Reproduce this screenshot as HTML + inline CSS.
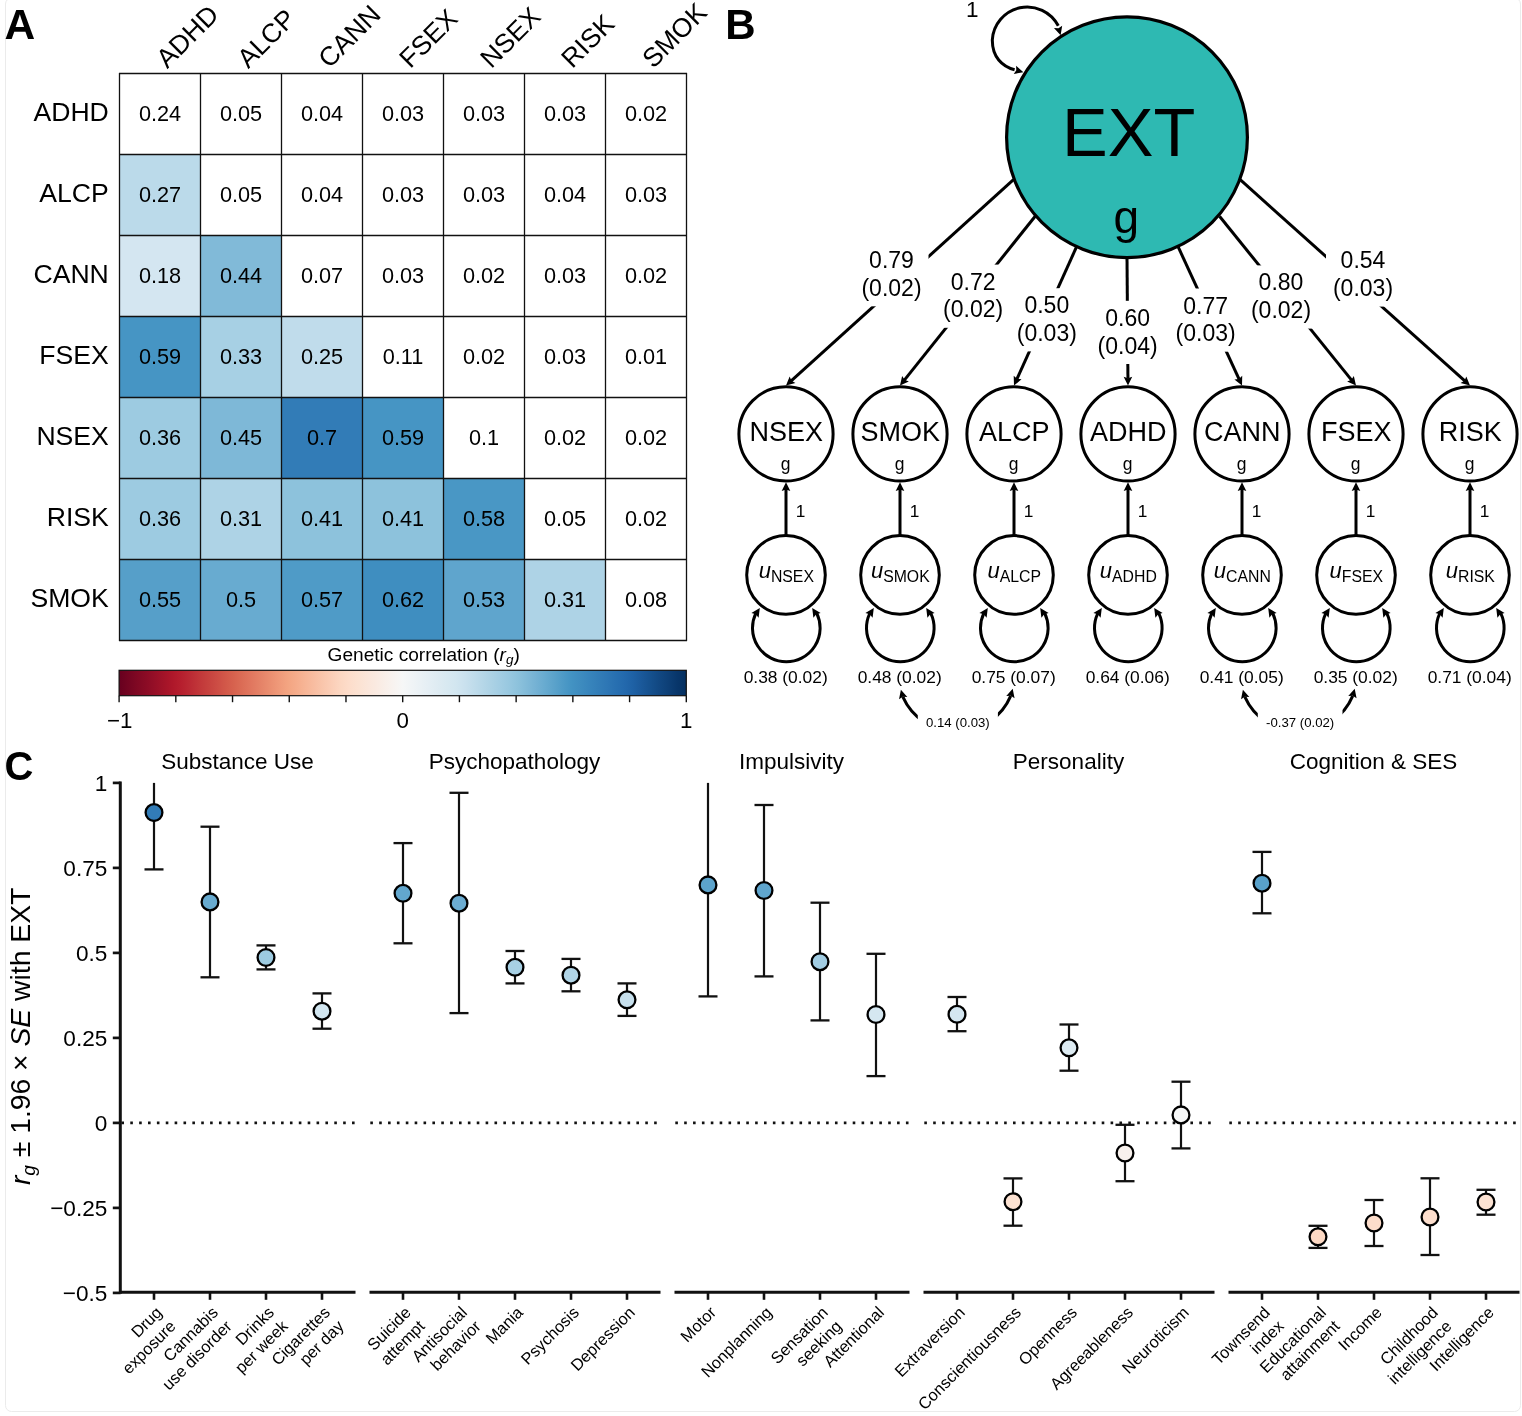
<!DOCTYPE html>
<html><head><meta charset="utf-8"><style>
html,body{margin:0;padding:0;background:#fff;}
svg{display:block;font-family:'Liberation Sans', sans-serif;will-change:transform;}
</style></head><body>
<svg width="1522" height="1416" viewBox="0 0 1522 1416">
<rect width="1522" height="1416" fill="#ffffff"/>
<rect x="5.5" y="-2" width="1515" height="1413.5" rx="6" ry="6" fill="#ffffff" stroke="#ebebeb" stroke-width="1"/>
<text x="4.6" y="38.9" font-size="42.5" font-weight="bold">A</text>
<rect x="119.50" y="73.50" width="81.0" height="81.0" fill="#ffffff"/>
<rect x="200.50" y="73.50" width="81.0" height="81.0" fill="#ffffff"/>
<rect x="281.50" y="73.50" width="81.0" height="81.0" fill="#ffffff"/>
<rect x="362.50" y="73.50" width="81.0" height="81.0" fill="#ffffff"/>
<rect x="443.50" y="73.50" width="81.0" height="81.0" fill="#ffffff"/>
<rect x="524.50" y="73.50" width="81.0" height="81.0" fill="#ffffff"/>
<rect x="605.50" y="73.50" width="81.0" height="81.0" fill="#ffffff"/>
<rect x="119.50" y="154.50" width="81.0" height="81.0" fill="#bbdaea"/>
<rect x="200.50" y="154.50" width="81.0" height="81.0" fill="#ffffff"/>
<rect x="281.50" y="154.50" width="81.0" height="81.0" fill="#ffffff"/>
<rect x="362.50" y="154.50" width="81.0" height="81.0" fill="#ffffff"/>
<rect x="443.50" y="154.50" width="81.0" height="81.0" fill="#ffffff"/>
<rect x="524.50" y="154.50" width="81.0" height="81.0" fill="#ffffff"/>
<rect x="605.50" y="154.50" width="81.0" height="81.0" fill="#ffffff"/>
<rect x="119.50" y="235.50" width="81.0" height="81.0" fill="#d4e6f1"/>
<rect x="200.50" y="235.50" width="81.0" height="81.0" fill="#81bad8"/>
<rect x="281.50" y="235.50" width="81.0" height="81.0" fill="#ffffff"/>
<rect x="362.50" y="235.50" width="81.0" height="81.0" fill="#ffffff"/>
<rect x="443.50" y="235.50" width="81.0" height="81.0" fill="#ffffff"/>
<rect x="524.50" y="235.50" width="81.0" height="81.0" fill="#ffffff"/>
<rect x="605.50" y="235.50" width="81.0" height="81.0" fill="#ffffff"/>
<rect x="119.50" y="316.50" width="81.0" height="81.0" fill="#4695c4"/>
<rect x="200.50" y="316.50" width="81.0" height="81.0" fill="#a7d0e4"/>
<rect x="281.50" y="316.50" width="81.0" height="81.0" fill="#c0dceb"/>
<rect x="362.50" y="316.50" width="81.0" height="81.0" fill="#ffffff"/>
<rect x="443.50" y="316.50" width="81.0" height="81.0" fill="#ffffff"/>
<rect x="524.50" y="316.50" width="81.0" height="81.0" fill="#ffffff"/>
<rect x="605.50" y="316.50" width="81.0" height="81.0" fill="#ffffff"/>
<rect x="119.50" y="397.50" width="81.0" height="81.0" fill="#9dcbe1"/>
<rect x="200.50" y="397.50" width="81.0" height="81.0" fill="#7eb8d7"/>
<rect x="281.50" y="397.50" width="81.0" height="81.0" fill="#327cb7"/>
<rect x="362.50" y="397.50" width="81.0" height="81.0" fill="#4695c4"/>
<rect x="443.50" y="397.50" width="81.0" height="81.0" fill="#ffffff"/>
<rect x="524.50" y="397.50" width="81.0" height="81.0" fill="#ffffff"/>
<rect x="605.50" y="397.50" width="81.0" height="81.0" fill="#ffffff"/>
<rect x="119.50" y="478.50" width="81.0" height="81.0" fill="#9dcbe1"/>
<rect x="200.50" y="478.50" width="81.0" height="81.0" fill="#aed3e6"/>
<rect x="281.50" y="478.50" width="81.0" height="81.0" fill="#8dc2dc"/>
<rect x="362.50" y="478.50" width="81.0" height="81.0" fill="#8dc2dc"/>
<rect x="443.50" y="478.50" width="81.0" height="81.0" fill="#4997c5"/>
<rect x="524.50" y="478.50" width="81.0" height="81.0" fill="#ffffff"/>
<rect x="605.50" y="478.50" width="81.0" height="81.0" fill="#ffffff"/>
<rect x="119.50" y="559.50" width="81.0" height="81.0" fill="#569fc9"/>
<rect x="200.50" y="559.50" width="81.0" height="81.0" fill="#68abd0"/>
<rect x="281.50" y="559.50" width="81.0" height="81.0" fill="#4f9bc7"/>
<rect x="362.50" y="559.50" width="81.0" height="81.0" fill="#3f8ec0"/>
<rect x="443.50" y="559.50" width="81.0" height="81.0" fill="#5fa5cd"/>
<rect x="524.50" y="559.50" width="81.0" height="81.0" fill="#aed3e6"/>
<rect x="605.50" y="559.50" width="81.0" height="81.0" fill="#ffffff"/>
<line x1="119.50" y1="73.00" x2="119.50" y2="641.00" stroke="#111" stroke-width="1.3"/>
<line x1="119.00" y1="73.50" x2="687.00" y2="73.50" stroke="#111" stroke-width="1.3"/>
<line x1="200.50" y1="73.00" x2="200.50" y2="641.00" stroke="#111" stroke-width="1.3"/>
<line x1="119.00" y1="154.50" x2="687.00" y2="154.50" stroke="#111" stroke-width="1.3"/>
<line x1="281.50" y1="73.00" x2="281.50" y2="641.00" stroke="#111" stroke-width="1.3"/>
<line x1="119.00" y1="235.50" x2="687.00" y2="235.50" stroke="#111" stroke-width="1.3"/>
<line x1="362.50" y1="73.00" x2="362.50" y2="641.00" stroke="#111" stroke-width="1.3"/>
<line x1="119.00" y1="316.50" x2="687.00" y2="316.50" stroke="#111" stroke-width="1.3"/>
<line x1="443.50" y1="73.00" x2="443.50" y2="641.00" stroke="#111" stroke-width="1.3"/>
<line x1="119.00" y1="397.50" x2="687.00" y2="397.50" stroke="#111" stroke-width="1.3"/>
<line x1="524.50" y1="73.00" x2="524.50" y2="641.00" stroke="#111" stroke-width="1.3"/>
<line x1="119.00" y1="478.50" x2="687.00" y2="478.50" stroke="#111" stroke-width="1.3"/>
<line x1="605.50" y1="73.00" x2="605.50" y2="641.00" stroke="#111" stroke-width="1.3"/>
<line x1="119.00" y1="559.50" x2="687.00" y2="559.50" stroke="#111" stroke-width="1.3"/>
<line x1="686.50" y1="73.00" x2="686.50" y2="641.00" stroke="#111" stroke-width="1.3"/>
<line x1="119.00" y1="640.50" x2="687.00" y2="640.50" stroke="#111" stroke-width="1.3"/>
<text x="160.00" y="121.30" font-size="21.7" text-anchor="middle" >0.24</text>
<text x="241.00" y="121.30" font-size="21.7" text-anchor="middle" >0.05</text>
<text x="322.00" y="121.30" font-size="21.7" text-anchor="middle" >0.04</text>
<text x="403.00" y="121.30" font-size="21.7" text-anchor="middle" >0.03</text>
<text x="484.00" y="121.30" font-size="21.7" text-anchor="middle" >0.03</text>
<text x="565.00" y="121.30" font-size="21.7" text-anchor="middle" >0.03</text>
<text x="646.00" y="121.30" font-size="21.7" text-anchor="middle" >0.02</text>
<text x="160.00" y="202.30" font-size="21.7" text-anchor="middle" >0.27</text>
<text x="241.00" y="202.30" font-size="21.7" text-anchor="middle" >0.05</text>
<text x="322.00" y="202.30" font-size="21.7" text-anchor="middle" >0.04</text>
<text x="403.00" y="202.30" font-size="21.7" text-anchor="middle" >0.03</text>
<text x="484.00" y="202.30" font-size="21.7" text-anchor="middle" >0.03</text>
<text x="565.00" y="202.30" font-size="21.7" text-anchor="middle" >0.04</text>
<text x="646.00" y="202.30" font-size="21.7" text-anchor="middle" >0.03</text>
<text x="160.00" y="283.30" font-size="21.7" text-anchor="middle" >0.18</text>
<text x="241.00" y="283.30" font-size="21.7" text-anchor="middle" >0.44</text>
<text x="322.00" y="283.30" font-size="21.7" text-anchor="middle" >0.07</text>
<text x="403.00" y="283.30" font-size="21.7" text-anchor="middle" >0.03</text>
<text x="484.00" y="283.30" font-size="21.7" text-anchor="middle" >0.02</text>
<text x="565.00" y="283.30" font-size="21.7" text-anchor="middle" >0.03</text>
<text x="646.00" y="283.30" font-size="21.7" text-anchor="middle" >0.02</text>
<text x="160.00" y="364.30" font-size="21.7" text-anchor="middle" >0.59</text>
<text x="241.00" y="364.30" font-size="21.7" text-anchor="middle" >0.33</text>
<text x="322.00" y="364.30" font-size="21.7" text-anchor="middle" >0.25</text>
<text x="403.00" y="364.30" font-size="21.7" text-anchor="middle" >0.11</text>
<text x="484.00" y="364.30" font-size="21.7" text-anchor="middle" >0.02</text>
<text x="565.00" y="364.30" font-size="21.7" text-anchor="middle" >0.03</text>
<text x="646.00" y="364.30" font-size="21.7" text-anchor="middle" >0.01</text>
<text x="160.00" y="445.30" font-size="21.7" text-anchor="middle" >0.36</text>
<text x="241.00" y="445.30" font-size="21.7" text-anchor="middle" >0.45</text>
<text x="322.00" y="445.30" font-size="21.7" text-anchor="middle" >0.7</text>
<text x="403.00" y="445.30" font-size="21.7" text-anchor="middle" >0.59</text>
<text x="484.00" y="445.30" font-size="21.7" text-anchor="middle" >0.1</text>
<text x="565.00" y="445.30" font-size="21.7" text-anchor="middle" >0.02</text>
<text x="646.00" y="445.30" font-size="21.7" text-anchor="middle" >0.02</text>
<text x="160.00" y="526.30" font-size="21.7" text-anchor="middle" >0.36</text>
<text x="241.00" y="526.30" font-size="21.7" text-anchor="middle" >0.31</text>
<text x="322.00" y="526.30" font-size="21.7" text-anchor="middle" >0.41</text>
<text x="403.00" y="526.30" font-size="21.7" text-anchor="middle" >0.41</text>
<text x="484.00" y="526.30" font-size="21.7" text-anchor="middle" >0.58</text>
<text x="565.00" y="526.30" font-size="21.7" text-anchor="middle" >0.05</text>
<text x="646.00" y="526.30" font-size="21.7" text-anchor="middle" >0.02</text>
<text x="160.00" y="607.30" font-size="21.7" text-anchor="middle" >0.55</text>
<text x="241.00" y="607.30" font-size="21.7" text-anchor="middle" >0.5</text>
<text x="322.00" y="607.30" font-size="21.7" text-anchor="middle" >0.57</text>
<text x="403.00" y="607.30" font-size="21.7" text-anchor="middle" >0.62</text>
<text x="484.00" y="607.30" font-size="21.7" text-anchor="middle" >0.53</text>
<text x="565.00" y="607.30" font-size="21.7" text-anchor="middle" >0.31</text>
<text x="646.00" y="607.30" font-size="21.7" text-anchor="middle" >0.08</text>
<text x="108.80" y="120.70" font-size="26.6" text-anchor="end" >ADHD</text>
<text x="108.80" y="201.70" font-size="26.6" text-anchor="end" >ALCP</text>
<text x="108.80" y="282.70" font-size="26.6" text-anchor="end" >CANN</text>
<text x="108.80" y="363.70" font-size="26.6" text-anchor="end" >FSEX</text>
<text x="108.80" y="444.70" font-size="26.6" text-anchor="end" >NSEX</text>
<text x="108.80" y="525.70" font-size="26.6" text-anchor="end" >RISK</text>
<text x="108.80" y="606.70" font-size="26.6" text-anchor="end" >SMOK</text>
<text transform="translate(167.20,69.3) rotate(-45)" font-size="26.5">ADHD</text>
<text transform="translate(248.20,69.3) rotate(-45)" font-size="26.5">ALCP</text>
<text transform="translate(329.20,69.3) rotate(-45)" font-size="26.5">CANN</text>
<text transform="translate(410.20,69.3) rotate(-45)" font-size="26.5">FSEX</text>
<text transform="translate(491.20,69.3) rotate(-45)" font-size="26.5">NSEX</text>
<text transform="translate(572.20,69.3) rotate(-45)" font-size="26.5">RISK</text>
<text transform="translate(653.20,69.3) rotate(-45)" font-size="26.5">SMOK</text>
<defs><linearGradient id="rdbu" x1="0" x2="1" y1="0" y2="0">
<stop offset="0.0000" stop-color="#67001f"/>
<stop offset="0.0156" stop-color="#730421"/>
<stop offset="0.0312" stop-color="#7f0823"/>
<stop offset="0.0469" stop-color="#8a0b25"/>
<stop offset="0.0625" stop-color="#960f27"/>
<stop offset="0.0781" stop-color="#a21328"/>
<stop offset="0.0938" stop-color="#ae172a"/>
<stop offset="0.1094" stop-color="#b61f2e"/>
<stop offset="0.1250" stop-color="#bb2a34"/>
<stop offset="0.1406" stop-color="#c13639"/>
<stop offset="0.1562" stop-color="#c6413e"/>
<stop offset="0.1719" stop-color="#cc4c44"/>
<stop offset="0.1875" stop-color="#d25849"/>
<stop offset="0.2031" stop-color="#d7634f"/>
<stop offset="0.2188" stop-color="#dc6e57"/>
<stop offset="0.2344" stop-color="#e17860"/>
<stop offset="0.2500" stop-color="#e58368"/>
<stop offset="0.2656" stop-color="#ea8e70"/>
<stop offset="0.2812" stop-color="#ef9979"/>
<stop offset="0.2969" stop-color="#f3a481"/>
<stop offset="0.3125" stop-color="#f5ac8b"/>
<stop offset="0.3281" stop-color="#f7b596"/>
<stop offset="0.3438" stop-color="#f8bda1"/>
<stop offset="0.3594" stop-color="#f9c6ac"/>
<stop offset="0.3750" stop-color="#fbceb7"/>
<stop offset="0.3906" stop-color="#fcd7c2"/>
<stop offset="0.4062" stop-color="#fdddcb"/>
<stop offset="0.4219" stop-color="#fce2d2"/>
<stop offset="0.4375" stop-color="#fbe6da"/>
<stop offset="0.4531" stop-color="#faeae1"/>
<stop offset="0.4688" stop-color="#f9efe9"/>
<stop offset="0.4844" stop-color="#f8f3f0"/>
<stop offset="0.5000" stop-color="#f6f7f7"/>
<stop offset="0.5156" stop-color="#f0f4f6"/>
<stop offset="0.5312" stop-color="#eaf1f5"/>
<stop offset="0.5469" stop-color="#e4eef4"/>
<stop offset="0.5625" stop-color="#deebf2"/>
<stop offset="0.5781" stop-color="#d8e9f1"/>
<stop offset="0.5938" stop-color="#d2e6f0"/>
<stop offset="0.6094" stop-color="#cae1ee"/>
<stop offset="0.6250" stop-color="#c0dceb"/>
<stop offset="0.6406" stop-color="#b6d7e8"/>
<stop offset="0.6562" stop-color="#acd2e5"/>
<stop offset="0.6719" stop-color="#a2cde3"/>
<stop offset="0.6875" stop-color="#98c8e0"/>
<stop offset="0.7031" stop-color="#8dc2dc"/>
<stop offset="0.7188" stop-color="#81bad8"/>
<stop offset="0.7344" stop-color="#75b2d4"/>
<stop offset="0.7500" stop-color="#68abd0"/>
<stop offset="0.7656" stop-color="#5ca3cb"/>
<stop offset="0.7812" stop-color="#4f9bc7"/>
<stop offset="0.7969" stop-color="#4393c3"/>
<stop offset="0.8125" stop-color="#3e8cbf"/>
<stop offset="0.8281" stop-color="#3885bc"/>
<stop offset="0.8438" stop-color="#337eb8"/>
<stop offset="0.8594" stop-color="#2e77b5"/>
<stop offset="0.8750" stop-color="#2870b1"/>
<stop offset="0.8906" stop-color="#2369ad"/>
<stop offset="0.9062" stop-color="#1e61a5"/>
<stop offset="0.9219" stop-color="#1a5899"/>
<stop offset="0.9375" stop-color="#15508d"/>
<stop offset="0.9531" stop-color="#114781"/>
<stop offset="0.9688" stop-color="#0d3f76"/>
<stop offset="0.9844" stop-color="#08366a"/>
<stop offset="1.0000" stop-color="#053061"/>
</linearGradient></defs>
<rect x="119.1" y="670.3" width="567.20" height="25.40" fill="url(#rdbu)" stroke="#111" stroke-width="1.2"/>
<line x1="119.10" y1="695.7" x2="119.10" y2="702.2" stroke="#111" stroke-width="1.4"/>
<line x1="175.82" y1="695.7" x2="175.82" y2="702.2" stroke="#111" stroke-width="1.4"/>
<line x1="232.54" y1="695.7" x2="232.54" y2="702.2" stroke="#111" stroke-width="1.4"/>
<line x1="289.26" y1="695.7" x2="289.26" y2="702.2" stroke="#111" stroke-width="1.4"/>
<line x1="345.98" y1="695.7" x2="345.98" y2="702.2" stroke="#111" stroke-width="1.4"/>
<line x1="402.70" y1="695.7" x2="402.70" y2="702.2" stroke="#111" stroke-width="1.4"/>
<line x1="459.42" y1="695.7" x2="459.42" y2="702.2" stroke="#111" stroke-width="1.4"/>
<line x1="516.14" y1="695.7" x2="516.14" y2="702.2" stroke="#111" stroke-width="1.4"/>
<line x1="572.86" y1="695.7" x2="572.86" y2="702.2" stroke="#111" stroke-width="1.4"/>
<line x1="629.58" y1="695.7" x2="629.58" y2="702.2" stroke="#111" stroke-width="1.4"/>
<line x1="686.30" y1="695.7" x2="686.30" y2="702.2" stroke="#111" stroke-width="1.4"/>
<text x="119.70" y="727.90" font-size="22.3" text-anchor="middle" >−1</text>
<text x="402.70" y="727.90" font-size="22.3" text-anchor="middle" >0</text>
<text x="686.30" y="727.90" font-size="22.3" text-anchor="middle" >1</text>
<text x="327.6" y="660.6" font-size="19.1">Genetic correlation (<tspan font-style="italic">r</tspan><tspan font-style="italic" font-size="13.5" dy="3.5">g</tspan><tspan dy="-3.5">)</tspan></text>
<text x="725.2" y="38.8" font-size="42" font-weight="bold">B</text>
<line x1="1013.5" y1="179.7" x2="791.19" y2="380.90" stroke="#000" stroke-width="3.0"/>
<path d="M786.00,385.60 L789.64,376.51 L791.49,380.63 L795.41,382.88 Z" fill="#000"/>
<line x1="1035.2" y1="216.2" x2="904.37" y2="380.13" stroke="#000" stroke-width="3.0"/>
<path d="M900.00,385.60 L902.13,376.04 L904.62,379.82 L908.85,381.40 Z" fill="#000"/>
<line x1="1076.6" y1="246.7" x2="1016.88" y2="379.22" stroke="#000" stroke-width="3.0"/>
<path d="M1014.00,385.60 L1013.70,375.81 L1017.04,378.85 L1021.54,379.34 Z" fill="#000"/>
<line x1="1127.0" y1="257.6" x2="1127.95" y2="378.60" stroke="#000" stroke-width="3.0"/>
<path d="M1128.00,385.60 L1123.63,376.83 L1127.94,378.20 L1132.23,376.77 Z" fill="#000"/>
<line x1="1178.1" y1="246.7" x2="1239.07" y2="379.24" stroke="#000" stroke-width="3.0"/>
<path d="M1242.00,385.60 L1234.42,379.40 L1238.91,378.88 L1242.23,375.81 Z" fill="#000"/>
<line x1="1219.5" y1="216.2" x2="1351.61" y2="380.15" stroke="#000" stroke-width="3.0"/>
<path d="M1356.00,385.60 L1347.13,381.45 L1351.36,379.84 L1353.83,376.05 Z" fill="#000"/>
<line x1="1240.2" y1="179.7" x2="1464.79" y2="380.93" stroke="#000" stroke-width="3.0"/>
<path d="M1470.00,385.60 L1460.58,382.93 L1464.49,380.66 L1466.32,376.53 Z" fill="#000"/>
<circle cx="1127.0" cy="137.2" r="120.4" fill="#2eb9b2" stroke="#000" stroke-width="3.2"/>
<text x="1128.70" y="156.30" font-size="68.5" text-anchor="middle" >EXT</text>
<text x="1126.30" y="232.50" font-size="46" text-anchor="middle" >g</text>
<rect x="854.50" y="243.10" width="74" height="63.20" fill="#fff"/>
<text x="891.50" y="268.10" font-size="23.0" text-anchor="middle" >0.79</text>
<text x="891.50" y="295.80" font-size="23.0" text-anchor="middle" >(0.02)</text>
<rect x="936.10" y="264.60" width="74" height="63.20" fill="#fff"/>
<text x="973.10" y="289.60" font-size="23.0" text-anchor="middle" >0.72</text>
<text x="973.10" y="317.30" font-size="23.0" text-anchor="middle" >(0.02)</text>
<rect x="1009.80" y="288.20" width="74" height="63.20" fill="#fff"/>
<text x="1046.80" y="313.20" font-size="23.0" text-anchor="middle" >0.50</text>
<text x="1046.80" y="340.90" font-size="23.0" text-anchor="middle" >(0.03)</text>
<rect x="1090.60" y="300.80" width="74" height="63.20" fill="#fff"/>
<text x="1127.60" y="325.80" font-size="23.0" text-anchor="middle" >0.60</text>
<text x="1127.60" y="353.50" font-size="23.0" text-anchor="middle" >(0.04)</text>
<rect x="1168.60" y="288.50" width="74" height="63.20" fill="#fff"/>
<text x="1205.60" y="313.50" font-size="23.0" text-anchor="middle" >0.77</text>
<text x="1205.60" y="341.20" font-size="23.0" text-anchor="middle" >(0.03)</text>
<rect x="1244.00" y="265.40" width="74" height="63.20" fill="#fff"/>
<text x="1281.00" y="290.40" font-size="23.0" text-anchor="middle" >0.80</text>
<text x="1281.00" y="318.10" font-size="23.0" text-anchor="middle" >(0.02)</text>
<rect x="1326.00" y="243.40" width="74" height="63.20" fill="#fff"/>
<text x="1363.00" y="268.40" font-size="23.0" text-anchor="middle" >0.54</text>
<text x="1363.00" y="296.10" font-size="23.0" text-anchor="middle" >(0.03)</text>
<path d="M1058.3,25.8 A35,35 0 0 0 992.3,40 C992.3,57 1002,66.5 1014.6,69.8" fill="none" stroke="#000" stroke-width="3"/>
<path d="M1060.60,35.30 L1053.95,28.11 L1058.47,28.21 L1062.19,25.64 Z" fill="#000"/>
<path d="M1023.40,72.20 L1013.76,73.96 L1016.28,70.20 L1016.09,65.68 Z" fill="#000"/>
<text x="972.30" y="16.70" font-size="22.5" text-anchor="middle" >1</text>
<circle cx="786" cy="433.9" r="47.1" fill="#fff" stroke="#000" stroke-width="3.0"/>
<text x="786.20" y="441.00" font-size="27" text-anchor="middle" >NSEX</text>
<text x="785.70" y="470.30" font-size="17.5" text-anchor="middle" >g</text>
<line x1="786" y1="535.6" x2="786" y2="488.0" stroke="#000" stroke-width="3.0"/>
<path d="M786.00,482.20 L790.30,491.00 L786.00,489.60 L781.70,491.00 Z" fill="#000"/>
<text x="800.50" y="517.20" font-size="17.3" text-anchor="middle" >1</text>
<circle cx="786" cy="574.9" r="39.3" fill="#fff" stroke="#000" stroke-width="3.0"/>
<text x="786.30" y="577.6" font-size="22" text-anchor="middle"><tspan font-style="italic">u</tspan><tspan font-size="15.8" dy="4.8">NSEX</tspan></text>
<path d="M816.81,613.45 A33.8,33.8 0 1 1 755.79,613.45" fill="none" stroke="#000" stroke-width="3"/>
<path d="M759.80,608.00 L758.60,617.72 L755.76,614.20 L751.39,613.03 Z" fill="#000"/>
<path d="M812.20,608.00 L820.61,613.03 L816.24,614.20 L813.40,617.72 Z" fill="#000"/>
<circle cx="900" cy="433.9" r="47.1" fill="#fff" stroke="#000" stroke-width="3.0"/>
<text x="900.20" y="441.00" font-size="27" text-anchor="middle" >SMOK</text>
<text x="899.70" y="470.30" font-size="17.5" text-anchor="middle" >g</text>
<line x1="900" y1="535.6" x2="900" y2="488.0" stroke="#000" stroke-width="3.0"/>
<path d="M900.00,482.20 L904.30,491.00 L900.00,489.60 L895.70,491.00 Z" fill="#000"/>
<text x="914.50" y="517.20" font-size="17.3" text-anchor="middle" >1</text>
<circle cx="900" cy="574.9" r="39.3" fill="#fff" stroke="#000" stroke-width="3.0"/>
<text x="900.30" y="577.6" font-size="22" text-anchor="middle"><tspan font-style="italic">u</tspan><tspan font-size="15.8" dy="4.8">SMOK</tspan></text>
<path d="M930.81,613.45 A33.8,33.8 0 1 1 869.79,613.45" fill="none" stroke="#000" stroke-width="3"/>
<path d="M873.80,608.00 L872.60,617.72 L869.76,614.20 L865.39,613.03 Z" fill="#000"/>
<path d="M926.20,608.00 L934.61,613.03 L930.24,614.20 L927.40,617.72 Z" fill="#000"/>
<circle cx="1014" cy="433.9" r="47.1" fill="#fff" stroke="#000" stroke-width="3.0"/>
<text x="1014.20" y="441.00" font-size="27" text-anchor="middle" >ALCP</text>
<text x="1013.70" y="470.30" font-size="17.5" text-anchor="middle" >g</text>
<line x1="1014" y1="535.6" x2="1014" y2="488.0" stroke="#000" stroke-width="3.0"/>
<path d="M1014.00,482.20 L1018.30,491.00 L1014.00,489.60 L1009.70,491.00 Z" fill="#000"/>
<text x="1028.50" y="517.20" font-size="17.3" text-anchor="middle" >1</text>
<circle cx="1014" cy="574.9" r="39.3" fill="#fff" stroke="#000" stroke-width="3.0"/>
<text x="1014.30" y="577.6" font-size="22" text-anchor="middle"><tspan font-style="italic">u</tspan><tspan font-size="15.8" dy="4.8">ALCP</tspan></text>
<path d="M1044.81,613.45 A33.8,33.8 0 1 1 983.79,613.45" fill="none" stroke="#000" stroke-width="3"/>
<path d="M987.80,608.00 L986.60,617.72 L983.76,614.20 L979.39,613.03 Z" fill="#000"/>
<path d="M1040.20,608.00 L1048.61,613.03 L1044.24,614.20 L1041.40,617.72 Z" fill="#000"/>
<circle cx="1128" cy="433.9" r="47.1" fill="#fff" stroke="#000" stroke-width="3.0"/>
<text x="1128.20" y="441.00" font-size="27" text-anchor="middle" >ADHD</text>
<text x="1127.70" y="470.30" font-size="17.5" text-anchor="middle" >g</text>
<line x1="1128" y1="535.6" x2="1128" y2="488.0" stroke="#000" stroke-width="3.0"/>
<path d="M1128.00,482.20 L1132.30,491.00 L1128.00,489.60 L1123.70,491.00 Z" fill="#000"/>
<text x="1142.50" y="517.20" font-size="17.3" text-anchor="middle" >1</text>
<circle cx="1128" cy="574.9" r="39.3" fill="#fff" stroke="#000" stroke-width="3.0"/>
<text x="1128.30" y="577.6" font-size="22" text-anchor="middle"><tspan font-style="italic">u</tspan><tspan font-size="15.8" dy="4.8">ADHD</tspan></text>
<path d="M1158.81,613.45 A33.8,33.8 0 1 1 1097.79,613.45" fill="none" stroke="#000" stroke-width="3"/>
<path d="M1101.80,608.00 L1100.60,617.72 L1097.76,614.20 L1093.39,613.03 Z" fill="#000"/>
<path d="M1154.20,608.00 L1162.61,613.03 L1158.24,614.20 L1155.40,617.72 Z" fill="#000"/>
<circle cx="1242" cy="433.9" r="47.1" fill="#fff" stroke="#000" stroke-width="3.0"/>
<text x="1242.20" y="441.00" font-size="27" text-anchor="middle" >CANN</text>
<text x="1241.70" y="470.30" font-size="17.5" text-anchor="middle" >g</text>
<line x1="1242" y1="535.6" x2="1242" y2="488.0" stroke="#000" stroke-width="3.0"/>
<path d="M1242.00,482.20 L1246.30,491.00 L1242.00,489.60 L1237.70,491.00 Z" fill="#000"/>
<text x="1256.50" y="517.20" font-size="17.3" text-anchor="middle" >1</text>
<circle cx="1242" cy="574.9" r="39.3" fill="#fff" stroke="#000" stroke-width="3.0"/>
<text x="1242.30" y="577.6" font-size="22" text-anchor="middle"><tspan font-style="italic">u</tspan><tspan font-size="15.8" dy="4.8">CANN</tspan></text>
<path d="M1272.81,613.45 A33.8,33.8 0 1 1 1211.79,613.45" fill="none" stroke="#000" stroke-width="3"/>
<path d="M1215.80,608.00 L1214.60,617.72 L1211.76,614.20 L1207.39,613.03 Z" fill="#000"/>
<path d="M1268.20,608.00 L1276.61,613.03 L1272.24,614.20 L1269.40,617.72 Z" fill="#000"/>
<circle cx="1356" cy="433.9" r="47.1" fill="#fff" stroke="#000" stroke-width="3.0"/>
<text x="1356.20" y="441.00" font-size="27" text-anchor="middle" >FSEX</text>
<text x="1355.70" y="470.30" font-size="17.5" text-anchor="middle" >g</text>
<line x1="1356" y1="535.6" x2="1356" y2="488.0" stroke="#000" stroke-width="3.0"/>
<path d="M1356.00,482.20 L1360.30,491.00 L1356.00,489.60 L1351.70,491.00 Z" fill="#000"/>
<text x="1370.50" y="517.20" font-size="17.3" text-anchor="middle" >1</text>
<circle cx="1356" cy="574.9" r="39.3" fill="#fff" stroke="#000" stroke-width="3.0"/>
<text x="1356.30" y="577.6" font-size="22" text-anchor="middle"><tspan font-style="italic">u</tspan><tspan font-size="15.8" dy="4.8">FSEX</tspan></text>
<path d="M1386.81,613.45 A33.8,33.8 0 1 1 1325.79,613.45" fill="none" stroke="#000" stroke-width="3"/>
<path d="M1329.80,608.00 L1328.60,617.72 L1325.76,614.20 L1321.39,613.03 Z" fill="#000"/>
<path d="M1382.20,608.00 L1390.61,613.03 L1386.24,614.20 L1383.40,617.72 Z" fill="#000"/>
<circle cx="1470" cy="433.9" r="47.1" fill="#fff" stroke="#000" stroke-width="3.0"/>
<text x="1470.20" y="441.00" font-size="27" text-anchor="middle" >RISK</text>
<text x="1469.70" y="470.30" font-size="17.5" text-anchor="middle" >g</text>
<line x1="1470" y1="535.6" x2="1470" y2="488.0" stroke="#000" stroke-width="3.0"/>
<path d="M1470.00,482.20 L1474.30,491.00 L1470.00,489.60 L1465.70,491.00 Z" fill="#000"/>
<text x="1484.50" y="517.20" font-size="17.3" text-anchor="middle" >1</text>
<circle cx="1470" cy="574.9" r="39.3" fill="#fff" stroke="#000" stroke-width="3.0"/>
<text x="1470.30" y="577.6" font-size="22" text-anchor="middle"><tspan font-style="italic">u</tspan><tspan font-size="15.8" dy="4.8">RISK</tspan></text>
<path d="M1500.81,613.45 A33.8,33.8 0 1 1 1439.79,613.45" fill="none" stroke="#000" stroke-width="3"/>
<path d="M1443.80,608.00 L1442.60,617.72 L1439.76,614.20 L1435.39,613.03 Z" fill="#000"/>
<path d="M1496.20,608.00 L1504.61,613.03 L1500.24,614.20 L1497.40,617.72 Z" fill="#000"/>
<text x="785.70" y="683.20" font-size="17.4" text-anchor="middle" >0.38 (0.02)</text>
<text x="899.70" y="683.20" font-size="17.4" text-anchor="middle" >0.48 (0.02)</text>
<text x="1013.70" y="683.20" font-size="17.4" text-anchor="middle" >0.75 (0.07)</text>
<text x="1127.70" y="683.20" font-size="17.4" text-anchor="middle" >0.64 (0.06)</text>
<text x="1241.70" y="683.20" font-size="17.4" text-anchor="middle" >0.41 (0.05)</text>
<text x="1355.70" y="683.20" font-size="17.4" text-anchor="middle" >0.35 (0.02)</text>
<text x="1469.70" y="683.20" font-size="17.4" text-anchor="middle" >0.71 (0.04)</text>
<path d="M902.85,696.95 A58.8,58.8 0 0 0 1010.75,695.95" fill="none" stroke="#000" stroke-width="3"/>
<path d="M900.90,689.70 L907.34,697.08 L902.82,696.85 L899.03,699.32 Z" fill="#000"/>
<path d="M1012.70,688.70 L1014.57,698.32 L1010.78,695.85 L1006.26,696.08 Z" fill="#000"/>
<rect x="917.80" y="709" width="80.10" height="26" fill="#fff"/>
<text x="957.85" y="726.90" font-size="13.2" text-anchor="middle" >0.14 (0.03)</text>
<path d="M1244.85,696.95 A58.8,58.8 0 0 0 1352.75,695.95" fill="none" stroke="#000" stroke-width="3"/>
<path d="M1242.90,689.70 L1249.34,697.08 L1244.82,696.85 L1241.03,699.32 Z" fill="#000"/>
<path d="M1354.70,688.70 L1356.57,698.32 L1352.78,695.85 L1348.26,696.08 Z" fill="#000"/>
<rect x="1257.80" y="709" width="84.70" height="26" fill="#fff"/>
<text x="1300.15" y="726.90" font-size="13.2" text-anchor="middle" >-0.37 (0.02)</text>
<text x="4.4" y="780" font-size="40" font-weight="bold">C</text>
<text x="237.50" y="768.70" font-size="22.5" text-anchor="middle" >Substance Use</text>
<line x1="121.40" y1="1122.90" x2="355.50" y2="1122.90" stroke="#111" stroke-width="2.6" stroke-dasharray="2.6,6.27"/>
<line x1="120.60" y1="1292.3" x2="355.50" y2="1292.3" stroke="#111" stroke-width="2.9"/>
<line x1="154.0" y1="1292.3" x2="154.0" y2="1299.8" stroke="#111" stroke-width="2.6"/>
<line x1="154.0" y1="782.9" x2="154.0" y2="869.4" stroke="#111" stroke-width="2.2"/>
<line x1="144.5" y1="869.4" x2="163.5" y2="869.4" stroke="#111" stroke-width="2.3"/>
<circle cx="154.0" cy="812.6" r="8.4" fill="#327cb7" stroke="#000" stroke-width="2.3"/>
<text transform="translate(163.00,1313.50) rotate(-45)" font-size="16.4" text-anchor="end"><tspan x="0" y="0">Drug</tspan><tspan x="0" y="19.5">exposure</tspan></text>
<line x1="210.0" y1="1292.3" x2="210.0" y2="1299.8" stroke="#111" stroke-width="2.6"/>
<line x1="210.0" y1="826.7" x2="210.0" y2="977.3" stroke="#111" stroke-width="2.2"/>
<line x1="200.5" y1="826.7" x2="219.5" y2="826.7" stroke="#111" stroke-width="2.3"/>
<line x1="200.5" y1="977.3" x2="219.5" y2="977.3" stroke="#111" stroke-width="2.3"/>
<circle cx="210.0" cy="901.9" r="8.4" fill="#68abd0" stroke="#000" stroke-width="2.3"/>
<text transform="translate(219.00,1313.50) rotate(-45)" font-size="16.4" text-anchor="end"><tspan x="0" y="0">Cannabis</tspan><tspan x="0" y="19.5">use disorder</tspan></text>
<line x1="266.0" y1="1292.3" x2="266.0" y2="1299.8" stroke="#111" stroke-width="2.6"/>
<line x1="266.0" y1="945.4" x2="266.0" y2="969.4" stroke="#111" stroke-width="2.2"/>
<line x1="256.5" y1="945.4" x2="275.5" y2="945.4" stroke="#111" stroke-width="2.3"/>
<line x1="256.5" y1="969.4" x2="275.5" y2="969.4" stroke="#111" stroke-width="2.3"/>
<circle cx="266.0" cy="957.5" r="8.4" fill="#9dcbe1" stroke="#000" stroke-width="2.3"/>
<text transform="translate(275.00,1313.50) rotate(-45)" font-size="16.4" text-anchor="end"><tspan x="0" y="0">Drinks</tspan><tspan x="0" y="19.5">per week</tspan></text>
<line x1="322.0" y1="1292.3" x2="322.0" y2="1299.8" stroke="#111" stroke-width="2.6"/>
<line x1="322.0" y1="993.4" x2="322.0" y2="1028.7" stroke="#111" stroke-width="2.2"/>
<line x1="312.5" y1="993.4" x2="331.5" y2="993.4" stroke="#111" stroke-width="2.3"/>
<line x1="312.5" y1="1028.7" x2="331.5" y2="1028.7" stroke="#111" stroke-width="2.3"/>
<circle cx="322.0" cy="1011.2" r="8.4" fill="#d2e6f0" stroke="#000" stroke-width="2.3"/>
<text transform="translate(331.00,1313.50) rotate(-45)" font-size="16.4" text-anchor="end"><tspan x="0" y="0">Cigarettes</tspan><tspan x="0" y="19.5">per day</tspan></text>
<text x="514.50" y="768.70" font-size="22.5" text-anchor="middle" >Psychopathology</text>
<line x1="370.30" y1="1122.90" x2="660.50" y2="1122.90" stroke="#111" stroke-width="2.6" stroke-dasharray="2.6,6.27"/>
<line x1="369.50" y1="1292.3" x2="660.50" y2="1292.3" stroke="#111" stroke-width="2.9"/>
<line x1="403.0" y1="1292.3" x2="403.0" y2="1299.8" stroke="#111" stroke-width="2.6"/>
<line x1="403.0" y1="843.1" x2="403.0" y2="943.3" stroke="#111" stroke-width="2.2"/>
<line x1="393.5" y1="843.1" x2="412.5" y2="843.1" stroke="#111" stroke-width="2.3"/>
<line x1="393.5" y1="943.3" x2="412.5" y2="943.3" stroke="#111" stroke-width="2.3"/>
<circle cx="403.0" cy="893.3" r="8.4" fill="#62a7ce" stroke="#000" stroke-width="2.3"/>
<text transform="translate(412.00,1313.50) rotate(-45)" font-size="16.4" text-anchor="end"><tspan x="0" y="0">Suicide</tspan><tspan x="0" y="19.5">attempt</tspan></text>
<line x1="459.0" y1="1292.3" x2="459.0" y2="1299.8" stroke="#111" stroke-width="2.6"/>
<line x1="459.0" y1="792.8" x2="459.0" y2="1013.1" stroke="#111" stroke-width="2.2"/>
<line x1="449.5" y1="792.8" x2="468.5" y2="792.8" stroke="#111" stroke-width="2.3"/>
<line x1="449.5" y1="1013.1" x2="468.5" y2="1013.1" stroke="#111" stroke-width="2.3"/>
<circle cx="459.0" cy="903.2" r="8.4" fill="#6bacd1" stroke="#000" stroke-width="2.3"/>
<text transform="translate(468.00,1313.50) rotate(-45)" font-size="16.4" text-anchor="end"><tspan x="0" y="0">Antisocial</tspan><tspan x="0" y="19.5">behavior</tspan></text>
<line x1="515.0" y1="1292.3" x2="515.0" y2="1299.8" stroke="#111" stroke-width="2.6"/>
<line x1="515.0" y1="951" x2="515.0" y2="983.4" stroke="#111" stroke-width="2.2"/>
<line x1="505.5" y1="951" x2="524.5" y2="951" stroke="#111" stroke-width="2.3"/>
<line x1="505.5" y1="983.4" x2="524.5" y2="983.4" stroke="#111" stroke-width="2.3"/>
<circle cx="515.0" cy="967.3" r="8.4" fill="#a7d0e4" stroke="#000" stroke-width="2.3"/>
<text transform="translate(524.00,1313.50) rotate(-45)" font-size="16.4" text-anchor="end">Mania</text>
<line x1="571.0" y1="1292.3" x2="571.0" y2="1299.8" stroke="#111" stroke-width="2.6"/>
<line x1="571.0" y1="958.9" x2="571.0" y2="991.3" stroke="#111" stroke-width="2.2"/>
<line x1="561.5" y1="958.9" x2="580.5" y2="958.9" stroke="#111" stroke-width="2.3"/>
<line x1="561.5" y1="991.3" x2="580.5" y2="991.3" stroke="#111" stroke-width="2.3"/>
<circle cx="571.0" cy="975.2" r="8.4" fill="#b1d5e7" stroke="#000" stroke-width="2.3"/>
<text transform="translate(580.00,1313.50) rotate(-45)" font-size="16.4" text-anchor="end">Psychosis</text>
<line x1="627.0" y1="1292.3" x2="627.0" y2="1299.8" stroke="#111" stroke-width="2.6"/>
<line x1="627.0" y1="983.4" x2="627.0" y2="1015.9" stroke="#111" stroke-width="2.2"/>
<line x1="617.5" y1="983.4" x2="636.5" y2="983.4" stroke="#111" stroke-width="2.3"/>
<line x1="617.5" y1="1015.9" x2="636.5" y2="1015.9" stroke="#111" stroke-width="2.3"/>
<circle cx="627.0" cy="999.8" r="8.4" fill="#c7e0ed" stroke="#000" stroke-width="2.3"/>
<text transform="translate(636.00,1313.50) rotate(-45)" font-size="16.4" text-anchor="end">Depression</text>
<text x="791.50" y="768.70" font-size="22.5" text-anchor="middle" >Impulsivity</text>
<line x1="675.30" y1="1122.90" x2="909.50" y2="1122.90" stroke="#111" stroke-width="2.6" stroke-dasharray="2.6,6.27"/>
<line x1="674.50" y1="1292.3" x2="909.50" y2="1292.3" stroke="#111" stroke-width="2.9"/>
<line x1="708.0" y1="1292.3" x2="708.0" y2="1299.8" stroke="#111" stroke-width="2.6"/>
<line x1="708.0" y1="782.9" x2="708.0" y2="996.4" stroke="#111" stroke-width="2.2"/>
<line x1="698.5" y1="996.4" x2="717.5" y2="996.4" stroke="#111" stroke-width="2.3"/>
<circle cx="708.0" cy="884.9" r="8.4" fill="#5ca3cb" stroke="#000" stroke-width="2.3"/>
<text transform="translate(717.00,1313.50) rotate(-45)" font-size="16.4" text-anchor="end">Motor</text>
<line x1="764.0" y1="1292.3" x2="764.0" y2="1299.8" stroke="#111" stroke-width="2.6"/>
<line x1="764.0" y1="805" x2="764.0" y2="976.4" stroke="#111" stroke-width="2.2"/>
<line x1="754.5" y1="805" x2="773.5" y2="805" stroke="#111" stroke-width="2.3"/>
<line x1="754.5" y1="976.4" x2="773.5" y2="976.4" stroke="#111" stroke-width="2.3"/>
<circle cx="764.0" cy="890.5" r="8.4" fill="#5fa5cd" stroke="#000" stroke-width="2.3"/>
<text transform="translate(773.00,1313.50) rotate(-45)" font-size="16.4" text-anchor="end">Nonplanning</text>
<line x1="820.0" y1="1292.3" x2="820.0" y2="1299.8" stroke="#111" stroke-width="2.6"/>
<line x1="820.0" y1="902.7" x2="820.0" y2="1020.4" stroke="#111" stroke-width="2.2"/>
<line x1="810.5" y1="902.7" x2="829.5" y2="902.7" stroke="#111" stroke-width="2.3"/>
<line x1="810.5" y1="1020.4" x2="829.5" y2="1020.4" stroke="#111" stroke-width="2.3"/>
<circle cx="820.0" cy="961.7" r="8.4" fill="#a2cde3" stroke="#000" stroke-width="2.3"/>
<text transform="translate(829.00,1313.50) rotate(-45)" font-size="16.4" text-anchor="end"><tspan x="0" y="0">Sensation</tspan><tspan x="0" y="19.5">seeking</tspan></text>
<line x1="876.0" y1="1292.3" x2="876.0" y2="1299.8" stroke="#111" stroke-width="2.6"/>
<line x1="876.0" y1="953.8" x2="876.0" y2="1076.1" stroke="#111" stroke-width="2.2"/>
<line x1="866.5" y1="953.8" x2="885.5" y2="953.8" stroke="#111" stroke-width="2.3"/>
<line x1="866.5" y1="1076.1" x2="885.5" y2="1076.1" stroke="#111" stroke-width="2.3"/>
<circle cx="876.0" cy="1014.5" r="8.4" fill="#d5e7f1" stroke="#000" stroke-width="2.3"/>
<text transform="translate(885.00,1313.50) rotate(-45)" font-size="16.4" text-anchor="end">Attentional</text>
<text x="1068.50" y="768.70" font-size="22.5" text-anchor="middle" >Personality</text>
<line x1="924.30" y1="1122.90" x2="1214.50" y2="1122.90" stroke="#111" stroke-width="2.6" stroke-dasharray="2.6,6.27"/>
<line x1="923.50" y1="1292.3" x2="1214.50" y2="1292.3" stroke="#111" stroke-width="2.9"/>
<line x1="957.0" y1="1292.3" x2="957.0" y2="1299.8" stroke="#111" stroke-width="2.6"/>
<line x1="957.0" y1="997" x2="957.0" y2="1031.2" stroke="#111" stroke-width="2.2"/>
<line x1="947.5" y1="997" x2="966.5" y2="997" stroke="#111" stroke-width="2.3"/>
<line x1="947.5" y1="1031.2" x2="966.5" y2="1031.2" stroke="#111" stroke-width="2.3"/>
<circle cx="957.0" cy="1014.3" r="8.4" fill="#d4e6f1" stroke="#000" stroke-width="2.3"/>
<text transform="translate(966.00,1313.50) rotate(-45)" font-size="16.4" text-anchor="end">Extraversion</text>
<line x1="1013.0" y1="1292.3" x2="1013.0" y2="1299.8" stroke="#111" stroke-width="2.6"/>
<line x1="1013.0" y1="1178.4" x2="1013.0" y2="1225.7" stroke="#111" stroke-width="2.2"/>
<line x1="1003.5" y1="1178.4" x2="1022.5" y2="1178.4" stroke="#111" stroke-width="2.3"/>
<line x1="1003.5" y1="1225.7" x2="1022.5" y2="1225.7" stroke="#111" stroke-width="2.3"/>
<circle cx="1013.0" cy="1201.7" r="8.4" fill="#fce2d2" stroke="#000" stroke-width="2.3"/>
<text transform="translate(1022.00,1313.50) rotate(-45)" font-size="16.4" text-anchor="end">Conscientiousness</text>
<line x1="1069.0" y1="1292.3" x2="1069.0" y2="1299.8" stroke="#111" stroke-width="2.6"/>
<line x1="1069.0" y1="1024.5" x2="1069.0" y2="1070.7" stroke="#111" stroke-width="2.2"/>
<line x1="1059.5" y1="1024.5" x2="1078.5" y2="1024.5" stroke="#111" stroke-width="2.3"/>
<line x1="1059.5" y1="1070.7" x2="1078.5" y2="1070.7" stroke="#111" stroke-width="2.3"/>
<circle cx="1069.0" cy="1047.8" r="8.4" fill="#ddebf2" stroke="#000" stroke-width="2.3"/>
<text transform="translate(1078.00,1313.50) rotate(-45)" font-size="16.4" text-anchor="end">Openness</text>
<line x1="1125.0" y1="1292.3" x2="1125.0" y2="1299.8" stroke="#111" stroke-width="2.6"/>
<line x1="1125.0" y1="1124.8" x2="1125.0" y2="1181.2" stroke="#111" stroke-width="2.2"/>
<line x1="1115.5" y1="1124.8" x2="1134.5" y2="1124.8" stroke="#111" stroke-width="2.3"/>
<line x1="1115.5" y1="1181.2" x2="1134.5" y2="1181.2" stroke="#111" stroke-width="2.3"/>
<circle cx="1125.0" cy="1153" r="8.4" fill="#f8f1ed" stroke="#000" stroke-width="2.3"/>
<text transform="translate(1134.00,1313.50) rotate(-45)" font-size="16.4" text-anchor="end">Agreeableness</text>
<line x1="1181.0" y1="1292.3" x2="1181.0" y2="1299.8" stroke="#111" stroke-width="2.6"/>
<line x1="1181.0" y1="1081.7" x2="1181.0" y2="1148.4" stroke="#111" stroke-width="2.2"/>
<line x1="1171.5" y1="1081.7" x2="1190.5" y2="1081.7" stroke="#111" stroke-width="2.3"/>
<line x1="1171.5" y1="1148.4" x2="1190.5" y2="1148.4" stroke="#111" stroke-width="2.3"/>
<circle cx="1181.0" cy="1114.9" r="8.4" fill="#f6f7f7" stroke="#000" stroke-width="2.3"/>
<text transform="translate(1190.00,1313.50) rotate(-45)" font-size="16.4" text-anchor="end">Neuroticism</text>
<text x="1373.50" y="768.70" font-size="22.5" text-anchor="middle" >Cognition &amp; SES</text>
<line x1="1229.30" y1="1122.90" x2="1519.50" y2="1122.90" stroke="#111" stroke-width="2.6" stroke-dasharray="2.6,6.27"/>
<line x1="1228.50" y1="1292.3" x2="1519.50" y2="1292.3" stroke="#111" stroke-width="2.9"/>
<line x1="1262.0" y1="1292.3" x2="1262.0" y2="1299.8" stroke="#111" stroke-width="2.6"/>
<line x1="1262.0" y1="851.9" x2="1262.0" y2="913.3" stroke="#111" stroke-width="2.2"/>
<line x1="1252.5" y1="851.9" x2="1271.5" y2="851.9" stroke="#111" stroke-width="2.3"/>
<line x1="1252.5" y1="913.3" x2="1271.5" y2="913.3" stroke="#111" stroke-width="2.3"/>
<circle cx="1262.0" cy="883.2" r="8.4" fill="#59a1ca" stroke="#000" stroke-width="2.3"/>
<text transform="translate(1271.00,1313.50) rotate(-45)" font-size="16.4" text-anchor="end"><tspan x="0" y="0">Townsend</tspan><tspan x="0" y="19.5">index</tspan></text>
<line x1="1318.0" y1="1292.3" x2="1318.0" y2="1299.8" stroke="#111" stroke-width="2.6"/>
<line x1="1318.0" y1="1225.8" x2="1318.0" y2="1247.9" stroke="#111" stroke-width="2.2"/>
<line x1="1308.5" y1="1225.8" x2="1327.5" y2="1225.8" stroke="#111" stroke-width="2.3"/>
<line x1="1308.5" y1="1247.9" x2="1327.5" y2="1247.9" stroke="#111" stroke-width="2.3"/>
<circle cx="1318.0" cy="1236.8" r="8.4" fill="#fdd9c4" stroke="#000" stroke-width="2.3"/>
<text transform="translate(1327.00,1313.50) rotate(-45)" font-size="16.4" text-anchor="end"><tspan x="0" y="0">Educational</tspan><tspan x="0" y="19.5">attainment</tspan></text>
<line x1="1374.0" y1="1292.3" x2="1374.0" y2="1299.8" stroke="#111" stroke-width="2.6"/>
<line x1="1374.0" y1="1200" x2="1374.0" y2="1246" stroke="#111" stroke-width="2.2"/>
<line x1="1364.5" y1="1200" x2="1383.5" y2="1200" stroke="#111" stroke-width="2.3"/>
<line x1="1364.5" y1="1246" x2="1383.5" y2="1246" stroke="#111" stroke-width="2.3"/>
<circle cx="1374.0" cy="1223" r="8.4" fill="#fdddcb" stroke="#000" stroke-width="2.3"/>
<text transform="translate(1383.00,1313.50) rotate(-45)" font-size="16.4" text-anchor="end">Income</text>
<line x1="1430.0" y1="1292.3" x2="1430.0" y2="1299.8" stroke="#111" stroke-width="2.6"/>
<line x1="1430.0" y1="1178.3" x2="1430.0" y2="1255" stroke="#111" stroke-width="2.2"/>
<line x1="1420.5" y1="1178.3" x2="1439.5" y2="1178.3" stroke="#111" stroke-width="2.3"/>
<line x1="1420.5" y1="1255" x2="1439.5" y2="1255" stroke="#111" stroke-width="2.3"/>
<circle cx="1430.0" cy="1217" r="8.4" fill="#fcdecd" stroke="#000" stroke-width="2.3"/>
<text transform="translate(1439.00,1313.50) rotate(-45)" font-size="16.4" text-anchor="end"><tspan x="0" y="0">Childhood</tspan><tspan x="0" y="19.5">intelligence</tspan></text>
<line x1="1486.0" y1="1292.3" x2="1486.0" y2="1299.8" stroke="#111" stroke-width="2.6"/>
<line x1="1486.0" y1="1189.8" x2="1486.0" y2="1214.7" stroke="#111" stroke-width="2.2"/>
<line x1="1476.5" y1="1189.8" x2="1495.5" y2="1189.8" stroke="#111" stroke-width="2.3"/>
<line x1="1476.5" y1="1214.7" x2="1495.5" y2="1214.7" stroke="#111" stroke-width="2.3"/>
<circle cx="1486.0" cy="1202" r="8.4" fill="#fce2d2" stroke="#000" stroke-width="2.3"/>
<text transform="translate(1495.00,1313.50) rotate(-45)" font-size="16.4" text-anchor="end">Intelligence</text>
<line x1="120.3" y1="781.5" x2="120.3" y2="1293.7" stroke="#111" stroke-width="3"/>
<line x1="112.8" y1="782.90" x2="120.6" y2="782.90" stroke="#111" stroke-width="2.7"/>
<text x="107.30" y="791.10" font-size="22.6" text-anchor="end" >1</text>
<line x1="112.8" y1="867.90" x2="120.6" y2="867.90" stroke="#111" stroke-width="2.7"/>
<text x="107.30" y="876.10" font-size="22.6" text-anchor="end" >0.75</text>
<line x1="112.8" y1="952.90" x2="120.6" y2="952.90" stroke="#111" stroke-width="2.7"/>
<text x="107.30" y="961.10" font-size="22.6" text-anchor="end" >0.5</text>
<line x1="112.8" y1="1037.90" x2="120.6" y2="1037.90" stroke="#111" stroke-width="2.7"/>
<text x="107.30" y="1046.10" font-size="22.6" text-anchor="end" >0.25</text>
<line x1="112.8" y1="1122.90" x2="120.6" y2="1122.90" stroke="#111" stroke-width="2.7"/>
<text x="107.30" y="1131.10" font-size="22.6" text-anchor="end" >0</text>
<line x1="112.8" y1="1207.90" x2="120.6" y2="1207.90" stroke="#111" stroke-width="2.7"/>
<text x="107.30" y="1216.10" font-size="22.6" text-anchor="end" >−0.25</text>
<line x1="112.8" y1="1292.90" x2="120.6" y2="1292.90" stroke="#111" stroke-width="2.7"/>
<text x="107.30" y="1301.10" font-size="22.6" text-anchor="end" >−0.5</text>
<text transform="translate(29.5,1036.4) rotate(-90)" font-size="28.3" text-anchor="middle"><tspan font-style="italic">r</tspan><tspan font-style="italic" font-size="19" dy="5">g</tspan><tspan dy="-5"> ± 1.96 × </tspan><tspan font-style="italic">SE</tspan><tspan> with EXT</tspan></text>
</svg></body></html>
